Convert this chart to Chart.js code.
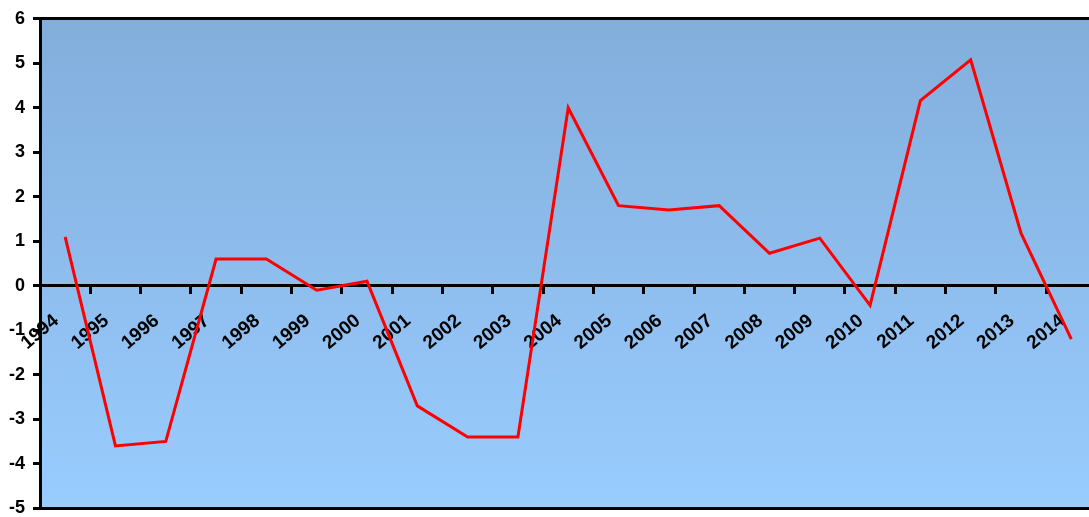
<!DOCTYPE html>
<html>
<head>
<meta charset="utf-8">
<script src="https://cdn.jsdelivr.net/npm/chart.js@4/dist/chart.umd.min.js"></script>
<style>
    html, body { margin: 0; padding: 0; background: #fff; overflow: hidden; }
    #wrap { position: relative; width: 1103px; height: 527px; }
</style>
</head>
<body>
<div id="wrap"><canvas id="growth"></canvas></div>
<script>
var years = ['1994', '1995', '1996', '1997', '1998', '1999', '2000', '2001', '2002', '2003', '2004',
             '2005', '2006', '2007', '2008', '2009', '2010', '2011', '2012', '2013', '2014'];
var values = [1.1, -3.6, -3.5, 0.6, 0.6, -0.1, 0.1, -2.7, -3.4, -3.4, 4.0,
              1.8, 1.7, 1.8, 0.73, 1.07, -0.44, 4.16, 5.08, 1.18, -1.2];
var yMin = -5;
var yMax = 6;

var fontFamily = "'Liberation Sans', Arial, sans-serif";

// gradient behind the plot area
var plotBackground = {
    id: 'plotBackground',
    beforeDraw: function(chart) {
        var ctx = chart.ctx;
        var a = chart.chartArea;
        var grad = ctx.createLinearGradient(0, a.top, 0, a.bottom);
        grad.addColorStop(0, '#82aedb');
        grad.addColorStop(1, '#99ccff');
        ctx.save();
        ctx.fillStyle = grad;
        ctx.fillRect(a.left, a.top, a.right - a.left, a.bottom - a.top);
        ctx.restore();
    }
};

var growth = document.getElementById('growth');
var growthChart = new Chart(growth, {
    type: 'line',
    data: {
        labels: years,
        datasets: [{
            data: values,
            borderColor: '#ff0000',
            borderWidth: 3,
            pointRadius: 0,
            tension: 0,
            fill: false
        }]
    },
    options: {
        responsive: true,
        maintainAspectRatio: false,
        animation: false,
        layout: { padding: { top: 18, bottom: 0, left: 0, right: 1 } },
        plugins: {
            legend: { display: false },
            tooltip: { enabled: false }
        },
        scales: {
            x: {
                position: { y: 0 },
                offset: true,
                grid: {
                    offset: true,
                    drawOnChartArea: false,
                    tickLength: 7,
                    tickWidth: 3,
                    tickColor: '#000'
                },
                border: { display: true, color: '#000', width: 3 },
                ticks: {
                    autoSkip: false,
                    minRotation: 40,
                    maxRotation: 40,
                    padding: 17,
                    labelOffset: -9,
                    color: '#000',
                    font: { family: fontFamily, size: 19, weight: 'bold' }
                }
            },
            y: {
                min: yMin,
                max: yMax,
                afterFit: function(scale) { scale.width = 40; },
                grid: {
                    lineWidth: 3,
                    tickLength: 7,
                    tickColor: '#000',
                    color: function(c) {
                        if (c.tick && (c.tick.value === yMin || c.tick.value === yMax)) return '#000';
                        return 'rgba(0,0,0,0)';
                    }
                },
                border: { display: true, color: '#000', width: 3 },
                ticks: {
                    stepSize: 1,
                    padding: 8,
                    color: '#000',
                    font: { family: fontFamily, size: 18, weight: 'bold' }
                }
            }
        }
    },
    plugins: [plotBackground]
});
</script>
</body>
</html>
